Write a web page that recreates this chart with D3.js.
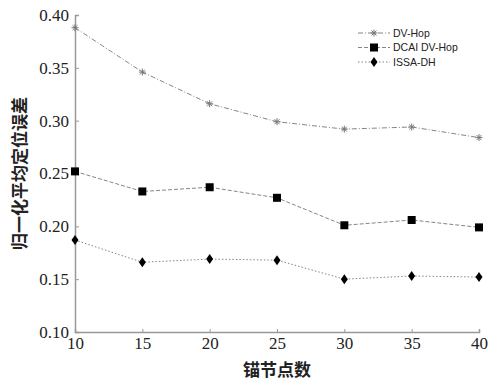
<!DOCTYPE html>
<meta charset="utf-8">
<style>
  body { margin: 0; background: #fff; }
</style>
<script src="https://d3js.org/d3.v7.min.js"></script>
<div id="chart"></div>
<script>

// data
var anchors = [10, 15, 20, 25, 30, 35, 40]
var dvHop   = [0.388, 0.346, 0.316, 0.299, 0.292, 0.294, 0.284]
var dcaiHop = [0.252, 0.233, 0.237, 0.227, 0.201, 0.206, 0.199]
var issaDh  = [0.187, 0.166, 0.169, 0.168, 0.150, 0.153, 0.152]
var seriesNames = ["DV-Hop", "DCAI DV-Hop", "ISSA-DH"]
var yTicks = [0.10, 0.15, 0.20, 0.25, 0.30, 0.35, 0.40]

var width = 491, height = 382
var margin = {top: 15, right: 12, bottom: 50, left: 75}
var serif = "'Liberation Serif', 'Times New Roman', serif"

var svg = d3.select("#chart").append("svg")
  .attr("width", width)
  .attr("height", height)

var x = d3.scaleLinear().domain([10, 40]).range([margin.left, width - margin.right])
var y = d3.scaleLinear().domain([0.10, 0.40]).range([height - margin.bottom, margin.top])

var axisColor = "#999"

// axes (ticks point inward, like the original)
var xAxis = svg.append("g")
  .attr("transform", "translate(0," + y(0.10) + ")")
  .attr("font-family", serif)
  .call(d3.axisBottom(x).tickValues(anchors).tickSize(-3).tickPadding(5).tickFormat(d3.format("d")))
var yAxis = svg.append("g")
  .attr("transform", "translate(" + x(10) + ",0)")
  .attr("font-family", serif)
  .call(d3.axisLeft(y).tickValues(yTicks).tickSize(-4).tickPadding(6).tickFormat(d3.format(".2f")))

svg.selectAll(".domain").attr("stroke", axisColor).attr("stroke-width", 1.5)
svg.selectAll(".tick line").attr("stroke", axisColor)
svg.selectAll(".tick text")
  .attr("fill", "#222")
  .style("font-family", serif)
  .style("font-size", "17px")

// axis titles
svg.append("text")
  .attr("x", (x(10) + x(40)) / 2)
  .attr("y", 376)
  .attr("text-anchor", "middle")
  .style("font-family", "'Noto Sans CJK SC', sans-serif")
  .style("font-size", "17px")
  .style("font-weight", "bold")
  .attr("fill", "#222")
  .text("锚节点数")

svg.append("text")
  .attr("transform", "translate(20," + ((y(0.10) + y(0.40)) / 2) + ") rotate(-90)")
  .attr("text-anchor", "middle")
  .attr("dy", "0.35em")
  .style("font-family", "'Noto Sans CJK SC', sans-serif")
  .style("font-size", "17px")
  .style("font-weight", "bold")
  .attr("fill", "#222")
  .text("归一化平均定位误差")

// series
var series = [
  {name: seriesNames[0], values: dvHop,   dash: "5,2,1,2", marker: "star"},
  {name: seriesNames[1], values: dcaiHop, dash: "4,2",     marker: "square"},
  {name: seriesNames[2], values: issaDh,  dash: "1.5,2",   marker: "diamond"}
]

var line = d3.line()
  .x(function(d, i) { return x(anchors[i]) })
  .y(function(d) { return y(d) })

function drawMarker(g, type, cx, cy) {
  if (type === "star") {
    var r = 3.5
    for (var a = 0; a < 4; a++) {
      var ang = a * Math.PI / 4
      g.append("line")
        .attr("x1", cx - r * Math.cos(ang)).attr("y1", cy - r * Math.sin(ang))
        .attr("x2", cx + r * Math.cos(ang)).attr("y2", cy + r * Math.sin(ang))
        .attr("stroke", "#777").attr("stroke-width", 1)
    }
  } else if (type === "square") {
    g.append("rect")
      .attr("x", cx - 4).attr("y", cy - 4)
      .attr("width", 8).attr("height", 8)
      .attr("fill", "#000")
  } else {
    g.append("path")
      .attr("d", "M" + cx + "," + (cy - 5) + "L" + (cx + 3.5) + "," + cy +
                 "L" + cx + "," + (cy + 5) + "L" + (cx - 3.5) + "," + cy + "Z")
      .attr("fill", "#000")
  }
}

series.forEach(function(s) {
  svg.append("path")
    .datum(s.values)
    .attr("d", line)
    .attr("fill", "none")
    .attr("stroke", "#777")
    .attr("stroke-width", 0.9)
    .attr("stroke-dasharray", s.dash)
  var g = svg.append("g")
  s.values.forEach(function(v, i) {
    drawMarker(g, s.marker, x(anchors[i]), y(v))
  })
})

// legend
var legend = svg.append("g")
series.forEach(function(s, i) {
  var ly = 33 + i * 14.5
  legend.append("line")
    .attr("x1", 358).attr("x2", 390)
    .attr("y1", ly).attr("y2", ly)
    .attr("stroke", "#777").attr("stroke-width", 0.9)
    .attr("stroke-dasharray", s.dash)
  drawMarker(legend, s.marker, 374, ly)
  legend.append("text")
    .attr("x", 393).attr("y", ly)
    .attr("dy", "0.35em")
    .style("font-family", "'Liberation Sans', Arial, sans-serif")
    .style("font-size", "10.5px")
    .attr("fill", "#222")
    .text(s.name)
})

</script>
